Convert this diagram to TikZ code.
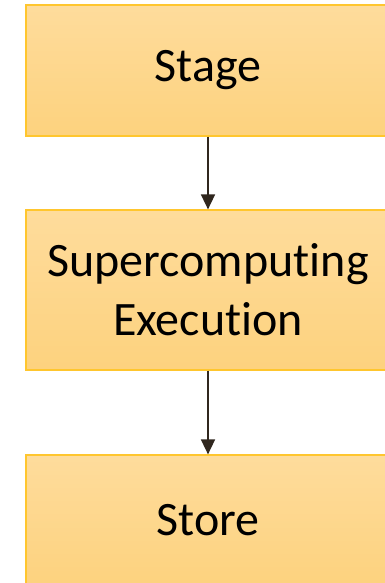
\documentclass[tikz,border=0pt]{standalone}
\usepackage{fontspec}
\setmainfont[RawFeature=-liga]{Carlito}
\usetikzlibrary{arrows.meta}
\definecolor{goldline}{HTML}{FFC62E}
\definecolor{goldtop}{HTML}{FEDC9C}
\definecolor{goldbot}{HTML}{FDD27E}
\definecolor{arrowc}{HTML}{30271E}
\def\w{364pt}
\def\cx{208pt}
\tikzstyle{b}=[rectangle,draw=goldline,line width=1.2pt,top color=goldtop,bottom color=goldbot,minimum width=\w,align=center,font=\fontsize{48}{59}\selectfont]
\tikzstyle{arr}=[draw=arrowc,line width=1.6pt,-{Triangle[width=14pt,length=15pt]}]

\begin{document}
\begin{tikzpicture}
			\useasboundingbox (0,0) rectangle (385pt,583pt);
			\node[b,minimum height=131pt](1) at (\cx,512.5pt){Stage};
			\node[b,minimum height=160pt](2) at (\cx,293pt){Supercomputing\\Execution};
			\node[b,minimum height=131pt](3) at (\cx,62.5pt){Store};
			\draw[arr](1)--(2);
			\draw[arr](2)--(3);
		\end{tikzpicture}
\end{document}
